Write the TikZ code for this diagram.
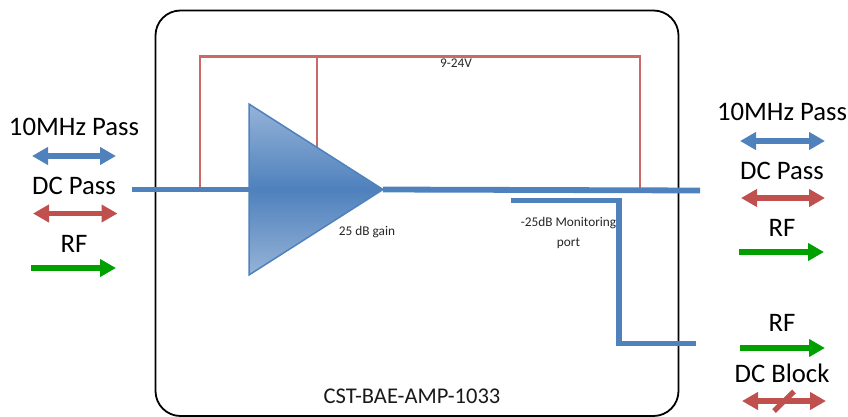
\documentclass[tikz,border=0pt]{standalone}
\usepackage{fontspec}
\setmainfont{Carlito}
\usetikzlibrary{arrows.meta}
\definecolor{bl}{HTML}{4F81BD}
\definecolor{rd}{HTML}{C0504D}
\definecolor{gn}{HTML}{00A000}
\definecolor{ltb}{HTML}{95B3D7}
\tikzset{
 x=1pt,y=-1pt,
 big/.style={font=\fontsize{26.7}{28}\selectfont,inner sep=0pt,text=black},
 small/.style={font=\fontsize{13.3}{15}\selectfont,inner sep=0pt,text=black!85},
 mid/.style={font=\fontsize{22.5}{24}\selectfont,inner sep=0pt,text=black!90},
 tline/.style={line width=5.8pt,bl},
 rline/.style={line width=2.2pt,rd!85!white,line join=miter},
 dbl/.style={line width=5.3pt,{Triangle[length=16pt,width=17pt]}-{Triangle[length=16pt,width=17pt]}},
 sgl/.style={line width=5.3pt,gn,-{Triangle[length=16pt,width=17pt]}},
}
\begin{document}
\begin{tikzpicture}
\useasboundingbox (0,0) rectangle (848,417);
% enclosure
\draw[line width=1.8pt,black,rounded corners=25pt] (155.5,10.5) rectangle (678.5,416);
% coordinates
\coordinate (inL) at (132,189.5);
\coordinate (ampIn) at (249,189.5);
\coordinate (ampT) at (249,104);
\coordinate (ampB) at (249,275);
\coordinate (ampO) at (383,189.5);
\coordinate (outR) at (700,190.5);
\coordinate (mA) at (511,200.5);
\coordinate (mB) at (619,200.5);
\coordinate (mC) at (619,343.5);
\coordinate (mD) at (695.5,343.5);
\coordinate (r1) at (200,188);
\coordinate (r2) at (200,56.5);
\coordinate (r3) at (640,56.5);
\coordinate (r4) at (640,189);
\coordinate (r5) at (317,56.5);
\coordinate (r6) at (317,147);
% red supply
\draw[rline] (r1) -- (r2) -- (r3) -- (r4);
\draw[rline] (r5) -- (r6);
% blue lines
\draw[tline] (inL) -- (ampIn);
\draw[tline] (ampO) -- (outR);
\draw[tline,line join=miter] (mA) -- (mB) -- (mC) -- (mD);
% amplifier
\shade[top color=ltb,bottom color=ltb,middle color=bl,shading angle=0] (ampT) -- (ampO) -- (ampB) -- cycle;
\draw[line width=1.5pt,bl,line join=miter] (ampT) -- (ampO) -- (ampB) -- cycle;
% labels inside
\node[small] (lgain) at (367,232) {25 dB gain};
\node[small] (lv) at (456,63.5) {9-24V};
\node[small] (lm1) at (568.5,223) {-25dB Monitoring};
\node[small] (lm2) at (568.5,243) {port};
\node[mid] (lname) at (412,396) {CST-BAE-AMP-1033};
% left legend
\node[big] (tl1) at (74,127) {10MHz Pass};
\node[big] (tl2) at (74,186) {DC Pass};
\node[big] (tl3) at (74,244) {RF};
\coordinate (al1a) at (32,156); \coordinate (al1b) at (116,156);
\coordinate (al2a) at (33,213.5); \coordinate (al2b) at (117.5,213.5);
\coordinate (al3a) at (31,268); \coordinate (al3b) at (116,268);
\draw[dbl,bl] (al1a) -- (al1b);
\draw[dbl,rd] (al2a) -- (al2b);
\draw[sgl] (al3a) -- (al3b);
% right legend
\node[big] (tr1) at (782,112) {10MHz Pass};
\node[big] (tr2) at (782,171) {DC Pass};
\node[big] (tr3) at (782,228) {RF};
\node[big] (tr4) at (782,323) {RF};
\node[big] (tr5) at (782,373) {DC Block};
\coordinate (ar1a) at (740,141); \coordinate (ar1b) at (825,141);
\coordinate (ar2a) at (741,198); \coordinate (ar2b) at (825,198);
\coordinate (ar3a) at (739,252); \coordinate (ar3b) at (824,252);
\coordinate (ar4a) at (740,348); \coordinate (ar4b) at (825,348);
\coordinate (ar5a) at (742,401); \coordinate (ar5b) at (826,401);
\coordinate (sa) at (774,411); \coordinate (sb) at (794,391.5);
\draw[dbl,bl] (ar1a) -- (ar1b);
\draw[dbl,rd] (ar2a) -- (ar2b);
\draw[sgl] (ar3a) -- (ar3b);
\draw[sgl] (ar4a) -- (ar4b);
\draw[dbl,rd] (ar5a) -- (ar5b);
\draw[line width=5.3pt,rd] (sa) -- (sb);
\end{tikzpicture}
\end{document}
